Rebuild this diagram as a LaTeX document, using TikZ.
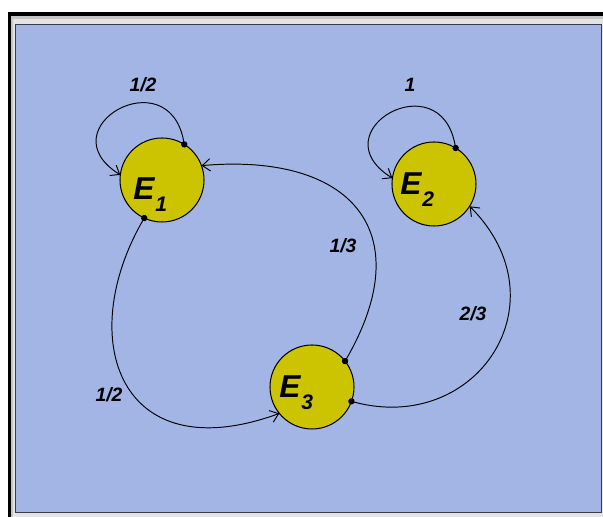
\documentclass[tikz,border=0pt]{standalone}
\usepackage{fontspec}
\setmainfont{Liberation Sans}
\usetikzlibrary{arrows.meta}
\definecolor{MCPanel}{HTML}{A3B5E5}
\definecolor{MCState}{HTML}{CCC400}
\definecolor{MCBevel}{HTML}{C4C4C4}
\definecolor{MCEdge}{HTML}{3A3A48}
\tikzset{
  mstate/.style={circle,draw=black,line width=.6pt,fill=MCState,minimum size=1.68cm,inner sep=0pt,outer sep=0pt},
  mname/.style={anchor=base west,inner sep=0pt,font=\fontsize{18}{18}\selectfont\bfseries\itshape},
  mtrans/.style={draw=black,line width=.55pt,{Circle[length=3.6pt]}-{Straight Barb[length=4.5pt,width=7pt]},shorten <=-1.8pt},
  mprob/.style={inner sep=0pt,font=\fontsize{11}{13}\selectfont\bfseries\itshape}
}
\newcommand\statename[1]{E\kern.5pt\raisebox{-6.5pt}{\fontsize{12}{12}\selectfont #1}}

\begin{document}
\begin{tikzpicture}[x=0.02cm,y=0.02cm]
\path[use as bounding box] (0,0) rectangle (603,517);
% window frame
\fill[black] (8,0) rectangle (603,505);
\fill[MCBevel] (11,0) rectangle (603,501);
\fill[white!55!MCBevel] (13,0) rectangle (603,498);
\fill[MCEdge] (15,4) rectangle (602,493);
\fill[MCPanel] (16,5) rectangle (601,492);
% states
\node[mstate] (E1) at (162,337) {};
\node[mstate] (E2) at (434,333) {};
\node[mstate] (E3) at (312,130) {};
\node[mname] (E1txt) at (133,317) {\statename{1}};
\node[mname] (E2txt) at (400,322) {\statename{2}};
\node[mname] (E3txt) at (279,119) {\statename{3}};
% transitions
\draw[mtrans] (E1.58) to[out=100,in=148,distance=1.76cm] (E1.173);
\draw[mtrans] (E2.59) to[out=100,in=148,distance=1.76cm] (E2.172);
\draw[mtrans] (E3.38) to[out=60,in=5,distance=3cm] (E1.20);
\draw[mtrans] (E1.245) to[out=240,in=200,out distance=2.8cm,in distance=3.4cm] (E3.219);
\draw[mtrans] (E3.340) to[out=-15,in=-45,out distance=2.6cm,in distance=2.7cm] (E2.328);
% probabilities
\node[mprob] (p11) at (143,432) {1/2};
\node[mprob] (p22) at (410,432) {1};
\node[mprob] (p31) at (343,271) {1/3};
\node[mprob] (p13) at (109,122) {1/2};
\node[mprob] (p32) at (473,203) {2/3};
\end{tikzpicture}
\end{document}
